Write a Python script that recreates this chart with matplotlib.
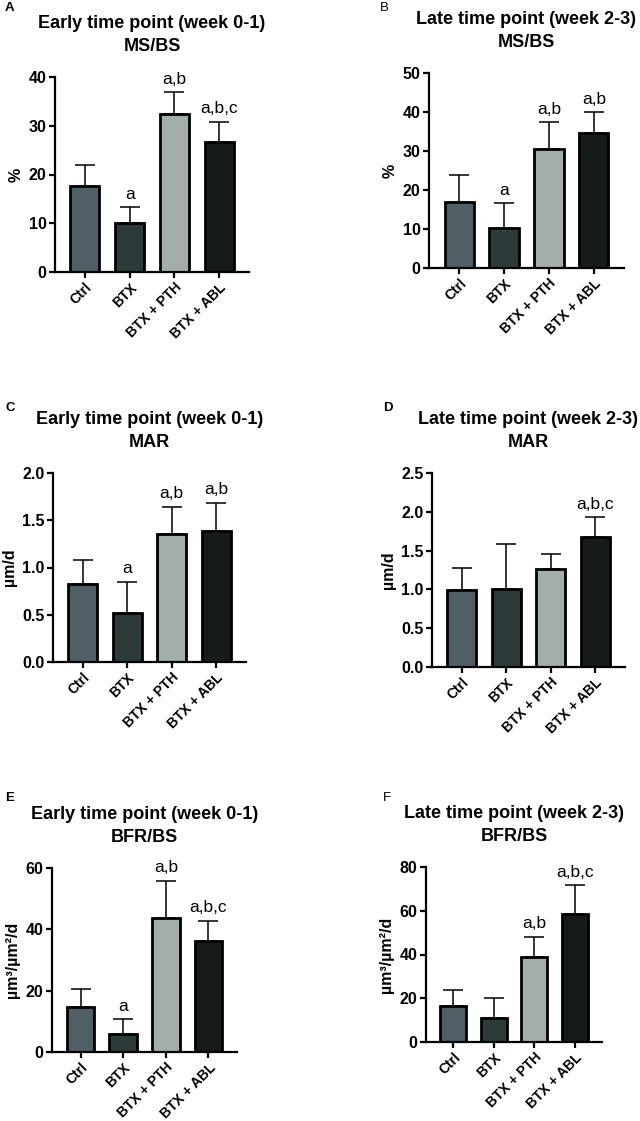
import numpy as np
import matplotlib
matplotlib.use("Agg")
import matplotlib.pyplot as plt

plt.rcParams["font.family"] = ["Liberation Sans", "DejaVu Sans"]

groups = ["Ctrl", "BTX", "BTX + PTH", "BTX + ABL"]
bar_colors = ["#505f66", "#2c3a3a", "#a3aeab", "#151b1b"]

# mean values and upper error-bar tops
msbs_early_mean = [17.6, 10.0, 32.4, 26.6]
msbs_early_top = [21.9, 13.3, 36.9, 30.8]
msbs_early_sig = ["", "a", "a,b", "a,b,c"]

msbs_late_mean = [16.9, 10.3, 30.6, 34.5]
msbs_late_top = [23.9, 16.6, 37.4, 39.9]
msbs_late_sig = ["", "a", "a,b", "a,b"]

mar_early_mean = [0.83, 0.52, 1.35, 1.39]
mar_early_top = [1.075, 0.85, 1.645, 1.687]
mar_early_sig = ["", "a", "a,b", "a,b"]

mar_late_mean = [0.99, 1.01, 1.26, 1.67]
mar_late_top = [1.27, 1.58, 1.45, 1.93]
mar_late_sig = ["", "", "", "a,b,c"]

bfr_early_mean = [14.7, 5.8, 43.6, 36.3]
bfr_early_top = [20.5, 10.7, 55.9, 42.8]
bfr_early_sig = ["", "a", "a,b", "a,b,c"]

bfr_late_mean = [16.5, 10.9, 39.0, 58.6]
bfr_late_top = [23.8, 20.3, 48.1, 71.7]
bfr_late_sig = ["", "", "a,b", "a,b,c"]

W, H = 640, 1121
fig = plt.figure(figsize=(W / 100, H / 100), dpi=100)


def px_axes(left, right, top, bottom):
    return fig.add_axes([left / W, 1 - bottom / H, (right - left) / W, (bottom - top) / H])


panels = [
    # letter, bold letter, letter centre, axes box, title, ylabel, data, ticks, fmt
    ("A", True, (5, 8), (55, 249, 77, 272), "Early time point (week 0-1)\nMS/BS", "%",
     msbs_early_mean, msbs_early_top, msbs_early_sig, [0, 10, 20, 30, 40], "{:.0f}"),
    ("B", False, (380, 8), (429, 624, 73, 268), "Late time point (week 2-3)\nMS/BS", "%",
     msbs_late_mean, msbs_late_top, msbs_late_sig, [0, 10, 20, 30, 40, 50], "{:.0f}"),
    ("C", True, (5, 408), (53, 246, 473, 662), "Early time point (week 0-1)\nMAR", "µm/d",
     mar_early_mean, mar_early_top, mar_early_sig, [0, 0.5, 1.0, 1.5, 2.0], "{:.1f}"),
    ("D", True, (383, 408), (432, 625, 473, 667), "Late time point (week 2-3)\nMAR", "µm/d",
     mar_late_mean, mar_late_top, mar_late_sig, [0, 0.5, 1.0, 1.5, 2.0, 2.5], "{:.1f}"),
    ("E", True, (5, 798), (52, 237, 868, 1052), "Early time point (week 0-1)\nBFR/BS", "µm³/µm²/d",
     bfr_early_mean, bfr_early_top, bfr_early_sig, [0, 20, 40, 60], "{:.0f}"),
    ("F", False, (383, 798), (426, 602, 867, 1042), "Late time point (week 2-3)\nBFR/BS", "µm³/µm²/d",
     bfr_late_mean, bfr_late_top, bfr_late_sig, [0, 20, 40, 60, 80], "{:.0f}"),
]

x = np.arange(len(groups))

for letter, lbold, (lx, ly), box, title, ylabel, mean, top, sig, ticks, fmt in panels:
    ax = px_axes(*box)
    mean = np.array(mean)
    top = np.array(top)
    ax.errorbar(x, mean, yerr=[np.zeros_like(mean), top - mean], fmt="none",
                ecolor="black", elinewidth=1.1, capsize=7, capthick=1.1, zorder=1)
    ax.bar(x, mean, width=0.65, color=bar_colors, edgecolor="black", linewidth=2.0, zorder=2)
    for xi, t, s in zip(x, top, sig):
        if s:
            ax.annotate(s, (xi, t), xytext=(0, 4), textcoords="offset points",
                        ha="center", va="bottom", fontsize=12.5)
    ax.set_xlim(-0.67, 3.67)
    ax.set_ylim(0, ticks[-1])
    ax.set_yticks(ticks)
    ax.set_yticklabels([fmt.format(t) for t in ticks], fontsize=11.5, fontweight="bold")
    ax.set_xticks(x)
    ax.set_xticklabels(groups, rotation=45, ha="right", rotation_mode="anchor",
                       fontsize=10, fontweight="bold")
    ax.spines["top"].set_visible(False)
    ax.spines["right"].set_visible(False)
    ax.spines["left"].set_linewidth(1.6)
    ax.spines["bottom"].set_linewidth(1.6)
    ax.tick_params(axis="both", length=4, width=1.6, direction="out", pad=2)
    ax.set_ylabel(ylabel, fontsize=11.5, fontweight="bold", labelpad=4)
    ax.set_title(title, fontsize=13, fontweight="bold", pad=19, linespacing=1.4)
    fig.text(lx / W, 1 - ly / H, letter, fontsize=9.5, fontweight="bold" if lbold else "normal",
             ha="left", va="center")

fig.savefig("out.png", dpi=100, facecolor="white")
